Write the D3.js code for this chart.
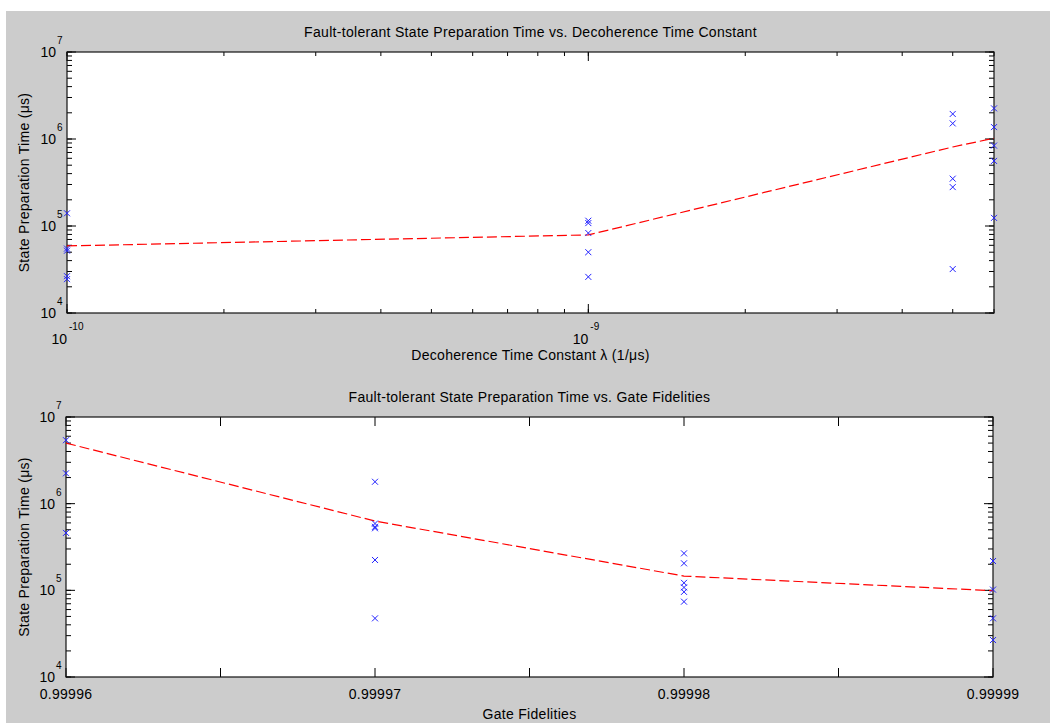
<!DOCTYPE html>
<html>
<head>
<meta charset="utf-8">
<script src="https://cdn.jsdelivr.net/npm/d3@7"></script>
<style>
  body { margin: 0; background: #fff; }
  text { font-family: "Liberation Sans", Arial, sans-serif; fill: #000; }
</style>
</head>
<body>
<svg id="chart" width="1050" height="723"></svg>
<script>
// ---- data ----
// top panel: decoherence time constant (1/us) vs preparation time (us)
const lambdaVals = [1e-10, 1e-9, 5e-9, 6e-9];
const lambdaTimes = [
  [1.4e5, 5.5e4, 5.2e4, 2.65e4, 2.45e4],
  [1.15e5, 1.08e5, 8.3e4, 5.0e4, 2.6e4],
  [1.94e6, 1.51e6, 3.5e5, 2.8e5, 3.2e4],
  [2.25e6, 1.37e6, 8.4e5, 5.6e5, 1.24e5]
];
const lambdaFit = [5.9e4, 7.9e4, 8.1e5, 1.02e6];
const lambdaMajor = [1e-10, 1e-9];

// bottom panel: gate fidelity vs preparation time (us)
const fidVals = [0.99996, 0.99997, 0.99998, 0.99999];
const fidTimes = [
  [5.4e6, 2.24e6, 4.6e5],
  [1.79e6, 5.9e5, 5.4e5, 5.2e5, 2.24e5, 4.75e4],
  [2.67e5, 2.05e5, 1.22e5, 1.08e5, 9.6e4, 7.4e4],
  [2.18e5, 1.02e5, 4.75e4, 2.67e4]
];
const fidFit = [5.0e6, 6.3e5, 1.46e5, 9.9e4];
const fidTicks = [0.99996, 0.999965, 0.99997, 0.999975, 0.99998, 0.999985, 0.99999];
const fidTickLabels = ["0.99996", "0.99997", "0.99998", "0.99999"];

const timeMajor = [1e4, 1e5, 1e6, 1e7];

const svg = d3.select("#chart");

// grey figure background
svg.append("rect")
  .attr("x", 6).attr("y", 11)
  .attr("width", 1044).attr("height", 712)
  .attr("fill", "#cccccc");

function drawPanel(cfg) {
  const g = svg.append("g");
  const [x0, x1] = cfg.x.range();
  const [y0, y1] = cfg.y.range(); // y0 bottom, y1 top

  g.append("rect")
    .attr("x", x0).attr("y", y1)
    .attr("width", x1 - x0).attr("height", y0 - y1)
    .attr("fill", "#fff");

  // y ticks, left and right, inside the box
  const yMinor = cfg.y.ticks();
  const tick = (sel, vals, len, side) => {
    sel.selectAll(null).data(vals).enter().append("line")
      .attr("x1", side === "l" ? x0 : x1)
      .attr("x2", side === "l" ? x0 + len : x1 - len)
      .attr("y1", d => cfg.y(d)).attr("y2", d => cfg.y(d))
      .attr("stroke", "#000").attr("stroke-width", 1);
  };
  tick(g, yMinor, 5, "l");
  tick(g, yMinor, 5, "r");
  tick(g, timeMajor, 9, "l");
  tick(g, timeMajor, 9, "r");

  // x ticks, bottom and top
  const xtick = (vals, len) => {
    g.selectAll(null).data(vals).enter().append("line")
      .attr("x1", d => cfg.x(d)).attr("x2", d => cfg.x(d))
      .attr("y1", y0).attr("y2", y0 - len)
      .attr("stroke", "#000");
    g.selectAll(null).data(vals).enter().append("line")
      .attr("x1", d => cfg.x(d)).attr("x2", d => cfg.x(d))
      .attr("y1", y1).attr("y2", y1 + len)
      .attr("stroke", "#000");
  };
  cfg.xTicks.forEach(t => xtick(t.vals, t.len));

  // frame
  g.append("rect")
    .attr("x", x0).attr("y", y1)
    .attr("width", x1 - x0).attr("height", y0 - y1)
    .attr("fill", "none").attr("stroke", "#111").attr("stroke-width", 1.2);

  // y tick labels 10^n
  timeMajor.forEach(v => {
    g.append("text")
      .attr("x", x0 - 11).attr("y", cfg.y(v) + 5)
      .attr("text-anchor", "end")
      .style("font-size", "14px")
      .text("10");
    g.append("text")
      .attr("x", x0 - 10).attr("y", cfg.y(v) - 8)
      .style("font-size", "10px")
      .text(Math.round(Math.log10(v)));
  });

  // fitted mean line
  const line = d3.line().x(d => cfg.x(d[0])).y(d => cfg.y(d[1]));
  g.append("path")
    .datum(cfg.xs.map((v, i) => [v, cfg.fit[i]]))
    .attr("d", line)
    .attr("fill", "none")
    .attr("stroke", "#ff0000")
    .attr("stroke-width", 1.2)
    .attr("stroke-dasharray", "10,4");

  // scatter of x markers
  const pts = [];
  cfg.xs.forEach((v, i) => cfg.ys[i].forEach(t => pts.push([v, t])));
  const s = 3;
  g.selectAll(null).data(pts).enter().append("path")
    .attr("d", d => {
      const px = cfg.x(d[0]), py = cfg.y(d[1]);
      return `M${px - s},${py - s}L${px + s},${py + s}M${px - s},${py + s}L${px + s},${py - s}`;
    })
    .attr("stroke", "#2222ff")
    .attr("stroke-width", 1)
    .attr("fill", "none");

  // title and axis labels
  g.append("text")
    .attr("x", (x0 + x1) / 2).attr("y", cfg.titleY)
    .attr("text-anchor", "middle")
    .style("font-size", "14px")
    .style("letter-spacing", "0.3px")
    .text(cfg.title);

  g.append("text")
    .attr("transform", `translate(29,${(y0 + y1) / 2}) rotate(-90)`)
    .attr("text-anchor", "middle")
    .style("font-size", "14px")
    .style("letter-spacing", "0.3px")
    .text("State Preparation Time (\u03bcs)");

  g.append("text")
    .attr("x", (x0 + x1) / 2).attr("y", cfg.xLabelY)
    .attr("text-anchor", "middle")
    .style("font-size", "14px")
    .style("letter-spacing", "0.3px")
    .text(cfg.xLabel);

  return g;
}

// ---- top panel ----
const xTop = d3.scaleLog().domain([1e-10, 6e-9]).range([67, 994]);
const yTop = d3.scaleLog().domain([1e4, 1e7]).range([313, 52]);
const gTop = drawPanel({
  x: xTop, y: yTop,
  xs: lambdaVals, ys: lambdaTimes, fit: lambdaFit,
  xTicks: [{vals: xTop.ticks(), len: 4}, {vals: lambdaMajor, len: 9}],
  title: "Fault-tolerant State Preparation Time vs. Decoherence Time Constant",
  titleY: 37,
  xLabel: "Decoherence Time Constant \u03bb (1/\u03bcs)",
  xLabelY: 360
});
lambdaMajor.forEach(v => {
  gTop.append("text")
    .attr("x", xTop(v)).attr("y", 344)
    .attr("text-anchor", "end")
    .style("font-size", "14px")
    .text("10");
  gTop.append("text")
    .attr("x", xTop(v) + 2).attr("y", 330)
    .style("font-size", "10px")
    .text(Math.round(Math.log10(v)));
});

// ---- bottom panel ----
const xBot = d3.scaleLinear().domain([0.99996, 0.99999]).range([66, 993]);
const yBot = d3.scaleLog().domain([1e4, 1e7]).range([677, 417]);
const gBot = drawPanel({
  x: xBot, y: yBot,
  xs: fidVals, ys: fidTimes, fit: fidFit,
  xTicks: [{vals: fidTicks, len: 9}],
  title: "Fault-tolerant State Preparation Time vs. Gate Fidelities",
  titleY: 402,
  xLabel: "Gate Fidelities",
  xLabelY: 719
});
fidTickLabels.forEach(l => {
  gBot.append("text")
    .attr("x", xBot(+l)).attr("y", 699)
    .attr("text-anchor", "middle")
    .style("font-size", "14px")
    .style("letter-spacing", "0.3px")
    .text(l);
});
</script>
</body>
</html>
